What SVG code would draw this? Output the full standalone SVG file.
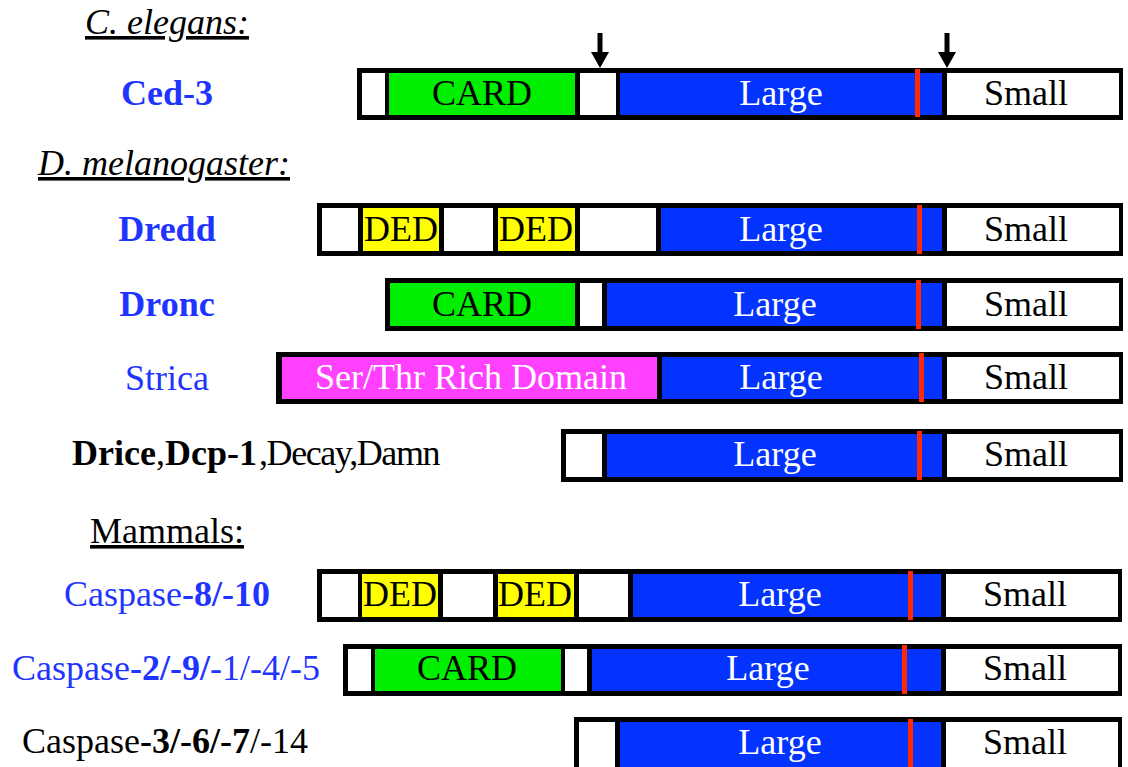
<svg xmlns="http://www.w3.org/2000/svg" width="1128" height="767" viewBox="0 0 1128 767">
<defs>
<style>
text{font-family:"Liberation Serif","Times New Roman",serif;font-size:36px}
.hd{fill:#000;font-style:italic;text-decoration:underline}
.hn{fill:#000;text-decoration:underline}
.lb{fill:#1f35ff}
.lk{fill:#000}
.b{font-weight:bold}
.c{text-anchor:middle}
.frame{fill:#000}
.w{fill:#fff}
.g{fill:#00ef00}
.y{fill:#ffff00}
.m{fill:#ff40ff}
.bl{fill:#0433ff}
.r{fill:#ff2a00}
.tk{fill:#000}
.tw{fill:#fff}
.arrow{stroke:#000;stroke-width:5;fill:none}
</style>
<marker id="ah" markerUnits="userSpaceOnUse" markerWidth="16" markerHeight="18" refX="0" refY="9" orient="auto" viewBox="0 0 16 18">
<path d="M0,0 L16,9 L0,18 Z" fill="#000"/>
</marker>
</defs>
<rect width="1128" height="767" fill="#fff"/>

<g id="headings">
<text class="hd" x="85" y="34">C. elegans:</text>
<text class="hd" x="38" y="175">D. melanogaster:</text>
<text class="hn" x="90" y="543">Mammals:</text>
</g>

<g id="ced3">
<text class="lb b c" x="167" y="105">Ced-3</text>
<rect class="frame" x="357" y="68" width="766" height="52"/>
<rect class="w" x="362" y="73" width="23" height="42"/>
<rect class="g" x="389" y="73" width="186" height="42"/>
<rect class="w" x="580" y="73" width="36" height="42"/>
<rect class="bl" x="620" y="73" width="322" height="42"/>
<rect class="r" x="915" y="69" width="5" height="48"/>
<rect class="w" x="947" y="73" width="172" height="42"/>
<text class="tk c" x="482" y="105">CARD</text>
<text class="tw c" x="781" y="105">Large</text>
<text class="tk c" x="1026" y="105">Small</text>
</g>

<g id="dredd">
<text class="lb b c" x="167" y="241">Dredd</text>
<rect class="frame" x="317" y="203" width="806" height="53"/>
<rect class="w" x="322" y="208" width="36" height="43"/>
<rect class="y" x="363" y="208" width="76" height="43"/>
<rect class="w" x="444" y="208" width="49" height="43"/>
<rect class="y" x="498" y="208" width="77" height="43"/>
<rect class="w" x="580" y="208" width="76" height="43"/>
<rect class="bl" x="661" y="208" width="281" height="43"/>
<rect class="r" x="917" y="205" width="5" height="49"/>
<rect class="w" x="947" y="208" width="172" height="43"/>
<text class="tk c" x="401" y="241">DED</text>
<text class="tk c" x="536" y="241">DED</text>
<text class="tw c" x="781" y="241">Large</text>
<text class="tk c" x="1026" y="241">Small</text>
</g>

<g id="dronc">
<text class="lb b c" x="167" y="316">Dronc</text>
<rect class="frame" x="385" y="278" width="738" height="53"/>
<rect class="g" x="390" y="283" width="185" height="43"/>
<rect class="w" x="580" y="283" width="22" height="43"/>
<rect class="bl" x="607" y="283" width="335" height="43"/>
<rect class="r" x="916" y="280" width="5" height="49"/>
<rect class="w" x="947" y="283" width="172" height="43"/>
<text class="tk c" x="482" y="316">CARD</text>
<text class="tw c" x="775" y="316">Large</text>
<text class="tk c" x="1026" y="316">Small</text>
</g>

<g id="strica">
<text class="lb c" x="167" y="390">Strica</text>
<rect class="frame" x="276" y="352" width="847" height="52"/>
<rect class="m" x="282" y="357" width="375" height="42"/>
<rect class="bl" x="662" y="357" width="280" height="42"/>
<rect class="r" x="919" y="353" width="5" height="49"/>
<rect class="w" x="947" y="357" width="172" height="42"/>
<text class="tw c" x="471" y="389">Ser/Thr Rich Domain</text>
<text class="tw c" x="781" y="389">Large</text>
<text class="tk c" x="1026" y="389">Small</text>
</g>

<g id="drice">
<text class="lk" x="72" y="465"><tspan class="b">Drice</tspan>,<tspan class="b">Dcp-1</tspan><tspan dx="2" letter-spacing="-1.4">,Decay,Damn</tspan></text>
<rect class="frame" x="561" y="429" width="562" height="53"/>
<rect class="w" x="566" y="434" width="36" height="43"/>
<rect class="bl" x="607" y="434" width="335" height="43"/>
<rect class="r" x="917" y="431" width="5" height="49"/>
<rect class="w" x="947" y="434" width="172" height="43"/>
<text class="tw c" x="775" y="466">Large</text>
<text class="tk c" x="1026" y="466">Small</text>
</g>

<g id="caspase8">
<text class="lb c" x="167" y="606">Caspase<tspan class="b">-8/-10</tspan></text>
<rect class="frame" x="317" y="569" width="805" height="53"/>
<rect class="w" x="322" y="574" width="36" height="43"/>
<rect class="y" x="362" y="574" width="76" height="43"/>
<rect class="w" x="443" y="574" width="50" height="43"/>
<rect class="y" x="498" y="574" width="76" height="43"/>
<rect class="w" x="579" y="574" width="49" height="43"/>
<rect class="bl" x="633" y="574" width="308" height="43"/>
<rect class="r" x="908" y="571" width="5" height="49"/>
<rect class="w" x="946" y="574" width="172" height="43"/>
<text class="tk c" x="400" y="606">DED</text>
<text class="tk c" x="535" y="606">DED</text>
<text class="tw c" x="780" y="606">Large</text>
<text class="tk c" x="1025" y="606">Small</text>
</g>

<g id="caspase2">
<text class="lb" x="12" y="680">Caspase<tspan class="b">-2/-9/</tspan>-1/-4/-5</text>
<rect class="frame" x="343" y="644" width="779" height="52"/>
<rect class="w" x="348" y="649" width="23" height="42"/>
<rect class="g" x="375" y="649" width="186" height="42"/>
<rect class="w" x="565" y="649" width="22" height="42"/>
<rect class="bl" x="592" y="649" width="349" height="42"/>
<rect class="r" x="902" y="645" width="5" height="49"/>
<rect class="w" x="946" y="649" width="172" height="42"/>
<text class="tk c" x="467" y="680">CARD</text>
<text class="tw c" x="768" y="680">Large</text>
<text class="tk c" x="1025" y="680">Small</text>
</g>

<g id="caspase3">
<text class="lk" x="22" y="753">Caspase<tspan class="b">-3/-6/-7</tspan>/-14</text>
<rect class="frame" x="574" y="717" width="548" height="55"/>
<rect class="w" x="579" y="722" width="36" height="45"/>
<rect class="bl" x="620" y="722" width="321" height="45"/>
<rect class="r" x="908" y="719" width="5" height="50"/>
<rect class="w" x="946" y="722" width="172" height="45"/>
<text class="tw c" x="780" y="754">Large</text>
<text class="tk c" x="1025" y="754">Small</text>
</g>

<g id="connectors">
<line class="arrow" x1="600" y1="33" x2="600" y2="52" marker-end="url(#ah)"/>
<line class="arrow" x1="947" y1="33" x2="947" y2="52" marker-end="url(#ah)"/>
</g>
</svg>
